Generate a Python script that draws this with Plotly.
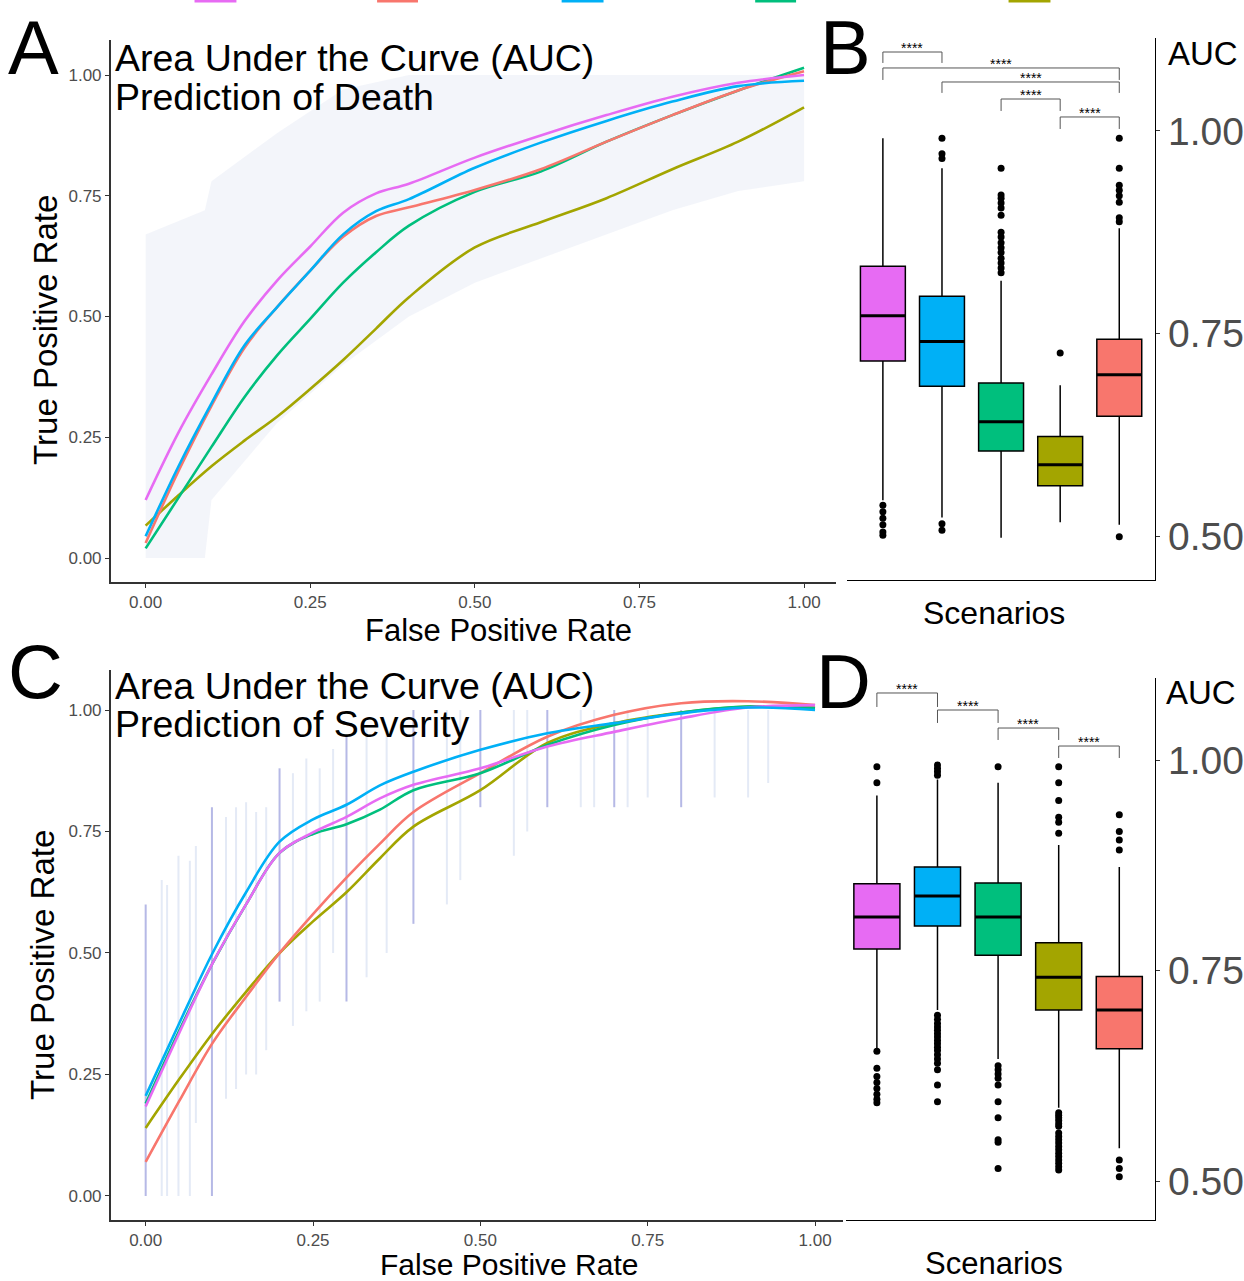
import plotly.graph_objects as go

W, H = 1244, 1281

# ---------------- data ----------------
scenario_names = ["Scenario 1", "Scenario 2", "Scenario 3", "Scenario 4", "Scenario 5"]
scenario_colors = ["#E76BF3", "#00B0F6", "#00BF7D", "#A3A500", "#F8766D"]
legend_order = [0, 4, 1, 2, 3]

axis_ticks = [0.0, 0.25, 0.5, 0.75, 1.0]
axis_ticktext = ["0.00", "0.25", "0.50", "0.75", "1.00"]
auc_ticks = [0.5, 0.75, 1.0]
auc_ticktext = ["0.50", "0.75", "1.00"]

# smoothed ROC curves (FPR grid -> TPR)
fpr_grid = [0, 0.05, 0.1, 0.15, 0.2, 0.25, 0.3, 0.35, 0.4, 0.5, 0.6, 0.7, 0.8, 0.9, 1.0]

death_tpr_s1 = [0.12, 0.26, 0.38, 0.49, 0.575, 0.645, 0.715, 0.755, 0.775, 0.829, 0.875, 0.917, 0.955, 0.984, 1.0]
death_tpr_s2 = [0.045, 0.19, 0.32, 0.44, 0.52, 0.595, 0.67, 0.718, 0.743, 0.808, 0.86, 0.905, 0.945, 0.977, 0.988]
death_tpr_s3 = [0.02, 0.125, 0.23, 0.333, 0.42, 0.495, 0.57, 0.633, 0.688, 0.758, 0.80, 0.862, 0.917, 0.968, 1.015]
death_tpr_s4 = [0.067, 0.13, 0.19, 0.243, 0.293, 0.35, 0.41, 0.475, 0.54, 0.643, 0.695, 0.745, 0.805, 0.862, 0.933]
death_tpr_s5 = [0.031, 0.18, 0.315, 0.435, 0.52, 0.595, 0.665, 0.708, 0.726, 0.762, 0.805, 0.862, 0.917, 0.968, 1.008]

sev_tpr_s1 = [0.184, 0.335, 0.479, 0.60, 0.706, 0.748, 0.78, 0.818, 0.846, 0.88, 0.925, 0.955, 0.983, 1.005, 1.01]
sev_tpr_s2 = [0.206, 0.355, 0.50, 0.625, 0.729, 0.775, 0.805, 0.845, 0.873, 0.918, 0.952, 0.973, 0.993, 1.005, 1.0]
sev_tpr_s3 = [0.19, 0.34, 0.479, 0.60, 0.706, 0.745, 0.765, 0.795, 0.835, 0.87, 0.928, 0.969, 0.995, 1.007, 1.004]
sev_tpr_s4 = [0.14, 0.24, 0.335, 0.42, 0.50, 0.565, 0.625, 0.695, 0.76, 0.835, 0.932, 0.973, 0.995, 1.007, 1.005]
sev_tpr_s5 = [0.07, 0.195, 0.315, 0.41, 0.50, 0.58, 0.655, 0.725, 0.79, 0.87, 0.945, 0.99, 1.014, 1.018, 1.01]

# raw-curve envelope behind panel A
band_fpr = [0, 0.09, 0.1, 0.2, 0.3, 0.4, 0.5, 0.6, 0.7, 0.8, 0.9, 1.0]
band_lo = [0, 0, 0.12, 0.28, 0.40, 0.50, 0.57, 0.62, 0.67, 0.72, 0.76, 0.78]
band_hi = [0.67, 0.72, 0.78, 0.88, 0.97, 1.0, 1.0, 1.0, 1.0, 1.0, 1.0, 1.0]

# raw ROC steps behind panel C (vertical segments)
sev_raw_strong_x = [0.0, 0.099, 0.2, 0.30, 0.40, 0.50, 0.60, 0.70, 0.80]
sev_raw_strong_lo = [0.0, 0.0, 0.40, 0.40, 0.56, 0.80, 0.80, 0.80, 0.80]
sev_raw_strong_hi = [0.60, 0.80, 0.88, 0.945, 1.0, 1.0, 1.0, 1.0, 1.0]
sev_raw_faint_x = [0.024, 0.032, 0.049, 0.066, 0.075, 0.12, 0.135, 0.15, 0.165, 0.18, 0.22, 0.24,
                   0.26, 0.28, 0.33, 0.36, 0.45, 0.47, 0.55, 0.57, 0.65, 0.67, 0.72, 0.75, 0.85, 0.9, 0.93]
sev_raw_faint_lo = [0, 0, 0, 0, 0.15, 0.2, 0.22, 0.25, 0.25, 0.3, 0.35, 0.38, 0.4, 0.5, 0.45, 0.5,
                    0.6, 0.65, 0.7, 0.75, 0.8, 0.8, 0.8, 0.82, 0.82, 0.82, 0.85]
sev_raw_faint_hi = [0.65, 0.64, 0.70, 0.69, 0.72, 0.78, 0.80, 0.81, 0.79, 0.80, 0.87, 0.9, 0.88, 0.92,
                    0.96, 0.95, 1.0, 1.0, 1.0, 1.0, 1.0, 1.0, 1.0, 1.0, 1.0, 1.0, 1.0]

# AUC box statistics (panel B: death, panel D: severity), order s1..s5
death_lowerfence = [0.544, 0.523, 0.498, 0.517, 0.514]
death_q1 = [0.716, 0.685, 0.605, 0.562, 0.648]
death_median = [0.772, 0.740, 0.641, 0.588, 0.699]
death_q3 = [0.833, 0.796, 0.689, 0.623, 0.743]
death_upperfence = [0.991, 0.954, 0.815, 0.686, 0.880]
death_outliers = [
    [0.538, 0.530, 0.522, 0.514, 0.505, 0.501],
    [0.991, 0.972, 0.966, 0.515, 0.507],
    [0.954, 0.921, 0.917, 0.911, 0.905, 0.896, 0.875, 0.869, 0.862, 0.856, 0.850, 0.843, 0.837, 0.831, 0.825],
    [0.726],
    [0.991, 0.954, 0.933, 0.927, 0.920, 0.912, 0.893, 0.888, 0.499],
]

sev_lowerfence = [0.658, 0.703, 0.645, 0.587, 0.539]
sev_q1 = [0.7755, 0.803, 0.768, 0.703, 0.657]
sev_median = [0.8135, 0.8385, 0.8135, 0.742, 0.703]
sev_q3 = [0.853, 0.873, 0.854, 0.783, 0.743]
sev_upperfence = [0.958, 0.977, 0.973, 0.899, 0.873]
sev_outliers = [
    [0.992, 0.973, 0.654, 0.634, 0.624, 0.617, 0.610, 0.603, 0.597, 0.593],
    [0.994, 0.990, 0.986, 0.982, 0.697, 0.692, 0.687, 0.683, 0.679, 0.675, 0.671, 0.667, 0.663,
     0.659, 0.655, 0.650, 0.645, 0.640, 0.632, 0.614, 0.594],
    [0.992, 0.637, 0.632, 0.627, 0.622, 0.614, 0.594, 0.575, 0.549, 0.546, 0.515],
    [0.992, 0.973, 0.952, 0.932, 0.926, 0.913, 0.581, 0.578, 0.575, 0.572, 0.568, 0.565, 0.557,
     0.553, 0.549, 0.545, 0.541, 0.537, 0.533, 0.529, 0.525, 0.521, 0.517, 0.513],
    [0.935, 0.915, 0.905, 0.893, 0.525, 0.515, 0.505],
]

# pairwise comparisons
death_pairs = [(1, 2), (1, 5), (2, 5), (3, 4), (4, 5)]
death_signif = ["****", "****", "****", "****", "****"]
sev_pairs = [(1, 2), (2, 3), (3, 4), (4, 5)]
sev_signif = ["****", "****", "****", "****"]

# ---------------- layout helpers ----------------
FONT = "Liberation Sans, Arial, sans-serif"
box_pos = [1, 2, 3, 4, 5]
BOX_W = 0.76


def px(x):
    return x / W


def py(y):
    return 1 - y / H


fig = go.Figure()

# ---- Panel A ----
fig.add_trace(go.Scatter(x=band_fpr, y=band_lo, mode="lines", line=dict(width=0),
                         hoverinfo="skip", showlegend=False, xaxis="x", yaxis="y"))
fig.add_trace(go.Scatter(x=band_fpr, y=band_hi, mode="lines", line=dict(width=0),
                         fill="tonexty", fillcolor="rgba(200,208,232,0.22)",
                         hoverinfo="skip", showlegend=False, xaxis="x", yaxis="y"))
death_series = [death_tpr_s1, death_tpr_s2, death_tpr_s3, death_tpr_s4, death_tpr_s5]
for i in [3, 2, 4, 1, 0]:
    fig.add_trace(go.Scatter(x=fpr_grid, y=death_series[i], mode="lines", name=scenario_names[i],
                             line=dict(color=scenario_colors[i], width=2.6, shape="spline", smoothing=1.0),
                             showlegend=False, xaxis="x", yaxis="y"))


# ---- Panel C ----
def seg_xy(xs, lo, hi):
    sx, sy = [], []
    for a, b, c in zip(xs, lo, hi):
        sx += [a, a, None]
        sy += [b, c, None]
    return sx, sy


fx, fy = seg_xy(sev_raw_faint_x, sev_raw_faint_lo, sev_raw_faint_hi)
fig.add_trace(go.Scatter(x=fx, y=fy, mode="lines", line=dict(color="rgba(120,150,210,0.20)", width=2),
                         hoverinfo="skip", showlegend=False, xaxis="x3", yaxis="y3"))
sx_, sy_ = seg_xy(sev_raw_strong_x, sev_raw_strong_lo, sev_raw_strong_hi)
fig.add_trace(go.Scatter(x=sx_, y=sy_, mode="lines", line=dict(color="rgba(110,115,205,0.50)", width=2),
                         hoverinfo="skip", showlegend=False, xaxis="x3", yaxis="y3"))
sev_series = [sev_tpr_s1, sev_tpr_s2, sev_tpr_s3, sev_tpr_s4, sev_tpr_s5]
for i in [3, 4, 2, 0, 1]:
    fig.add_trace(go.Scatter(x=fpr_grid, y=sev_series[i], mode="lines", name=scenario_names[i],
                             line=dict(color=scenario_colors[i], width=2.6, shape="spline", smoothing=1.0),
                             showlegend=False, xaxis="x3", yaxis="y3"))


# ---- Box panels ----
def add_boxes(xa, ya, lf, q1, med, q3, uf, outl):
    for i in range(5):
        fig.add_trace(go.Box(x=[box_pos[i]], q1=[q1[i]], median=[med[i]], q3=[q3[i]],
                             lowerfence=[lf[i]], upperfence=[uf[i]], width=BOX_W,
                             fillcolor=scenario_colors[i], line=dict(color="black", width=1.5),
                             whiskerwidth=0, boxpoints=False, name=scenario_names[i],
                             showlegend=False, hoverinfo="skip", xaxis=xa, yaxis=ya))
        fig.add_trace(go.Scatter(x=[box_pos[i] - BOX_W / 2, box_pos[i] + BOX_W / 2], y=[med[i], med[i]],
                                 mode="lines", line=dict(color="black", width=3),
                                 hoverinfo="skip", showlegend=False, xaxis=xa, yaxis=ya))
        fig.add_trace(go.Scatter(x=[box_pos[i]] * len(outl[i]), y=outl[i], mode="markers",
                                 marker=dict(color="black", size=7),
                                 hoverinfo="skip", showlegend=False, xaxis=xa, yaxis=ya))


add_boxes("x2", "y2", death_lowerfence, death_q1, death_median, death_q3, death_upperfence, death_outliers)
add_boxes("x4", "y4", sev_lowerfence, sev_q1, sev_median, sev_q3, sev_upperfence, sev_outliers)

# significance brackets (layout heights: top line, leg end)
death_bracket_y = [(1.0975, 1.084), (1.0778, 1.063), (1.0605, 1.047), (1.0395, 1.0247), (1.0173, 1.0025)]
sev_bracket_y = [(1.0796, 1.063), (1.0594, 1.044), (1.038, 1.0238), (1.0166, 1.0024)]

annotations = []


def add_brackets(xa, ya, pairs, labels, heights):
    for (a, b), lab, (top, leg) in zip(pairs, labels, heights):
        fig.add_trace(go.Scatter(x=[a, a, b, b], y=[leg, top, top, leg], mode="lines",
                                 line=dict(color="#555555", width=1),
                                 hoverinfo="skip", showlegend=False, xaxis=xa, yaxis=ya))
        annotations.append(dict(x=(a + b) / 2, y=top, xref=xa, yref=ya, text=lab, showarrow=False,
                                xanchor="center", yanchor="bottom", yshift=-6,
                                font=dict(family=FONT, size=14, color="black")))


add_brackets("x2", "y2", death_pairs, death_signif, death_bracket_y)
add_brackets("x4", "y4", sev_pairs, sev_signif, sev_bracket_y)

# ---------------- axes ----------------
roc_tickfont = dict(family=FONT, size=17, color="#4d4d4d")
common_roc = dict(showgrid=False, zeroline=False, showline=True, linecolor="#333333", linewidth=1.5,
                  ticks="outside", ticklen=4, tickcolor="#333333", tickfont=roc_tickfont,
                  tickvals=axis_ticks, ticktext=axis_ticktext)
common_box_x = dict(showgrid=False, zeroline=False, showline=True, linecolor="black", linewidth=1,
                    showticklabels=False, ticks="")
common_box_y = dict(showgrid=False, zeroline=False, showline=True, linecolor="black", linewidth=1,
                    ticks="outside", ticklen=4, tickcolor="#333333", side="right",
                    tickvals=auc_ticks, ticktext=auc_ticktext,
                    tickfont=dict(family=FONT, size=39, color="#4d4d4d"))

fig.update_layout(
    xaxis=dict(domain=[px(111), px(838)], range=[-0.053, 1.0485], anchor="y", **common_roc),
    yaxis=dict(domain=[py(582), py(40)], range=[-0.0497, 1.0725], anchor="x", **common_roc),
    xaxis2=dict(domain=[px(849), px(1158)], range=[0.392, 5.608], anchor="y2", **common_box_x),
    yaxis2=dict(domain=[py(580), py(38)], range=[0.4457, 1.1148], anchor="x2", **common_box_y),
    xaxis3=dict(domain=[px(111), px(845)], range=[-0.0522, 1.0417], anchor="y3", **common_roc),
    yaxis3=dict(domain=[py(1220), py(670)], range=[-0.0494, 1.0823], anchor="x3", **common_roc),
    xaxis4=dict(domain=[px(848), px(1158)], range=[0.4897, 5.5926], anchor="y4", **common_box_x),
    yaxis4=dict(domain=[py(1220), py(678)], range=[0.4537, 1.0974], anchor="x4", **common_box_y),
)


def txt(x, y, s, size, xanchor="left", angle=0, color="black"):
    annotations.append(dict(x=px(x), y=py(y), xref="paper", yref="paper", text=s, showarrow=False,
                            xanchor=xanchor, yanchor="middle", textangle=angle,
                            font=dict(family=FONT, size=size, color=color)))


# panel letters
txt(6, 47, "A", 76)
txt(820, 47, "B", 76)
txt(6, 671, "C", 76)
txt(816, 681, "D", 76)
# titles
txt(113, 58, "Area Under the Curve (AUC)", 37.5)
txt(113, 97, "Prediction of Death", 37.5)
txt(113, 686, "Area Under the Curve (AUC)", 37.5)
txt(113, 724, "Prediction of Severity", 37.5)
# axis titles
txt(500, 630, "False Positive Rate", 31, xanchor="center")
txt(510, 1264, "False Positive Rate", 30, xanchor="center")
txt(45, 330, "True Positive Rate", 33, xanchor="center", angle=-90)
txt(43, 965, "True Positive Rate", 33, xanchor="center", angle=-90)
txt(996, 613, "Scenarios", 32, xanchor="center")
txt(996, 1263, "Scenarios", 31, xanchor="center")
txt(1206, 53, "AUC", 33, xanchor="center")
txt(1204, 692, "AUC", 33, xanchor="center")

# legend keys (clipped at top edge)
legend_key_x = [(195, 237), (378, 419), (563, 605), (757, 798), (1011, 1053)]
shapes = []
for k, (x0, x1) in zip(legend_order, legend_key_x):
    shapes.append(dict(type="rect", xref="paper", yref="paper", x0=px(x0), x1=px(x1),
                       y0=py(2.5), y1=1.0, fillcolor=scenario_colors[k], line=dict(width=0)))

fig.update_layout(
    width=W, height=H, margin=dict(l=0, r=0, t=0, b=0),
    paper_bgcolor="white", plot_bgcolor="white",
    showlegend=False, annotations=annotations, shapes=shapes,
    font=dict(family=FONT),
)

fig.write_html("out.html", config={"displayModeBar": False},
               post_script="document.body.style.margin='0';document.body.style.padding='0';")
